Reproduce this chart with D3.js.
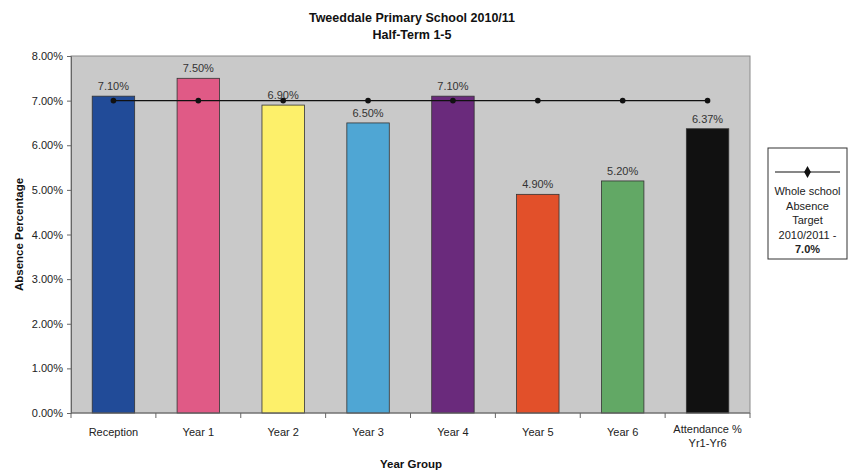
<!DOCTYPE html>
<html>
<head>
  <meta charset="utf-8">
  <script src="https://cdn.jsdelivr.net/npm/d3@7"></script>
  <style>
    body { margin: 0; background: #fff; }
    text { font-family: "Liberation Sans", Arial, sans-serif; }
  </style>
</head>
<body>
  <svg width="854" height="471" id="chart"></svg>
  <script>
    // data
    const categories = ['Reception', 'Year 1', 'Year 2', 'Year 3', 'Year 4', 'Year 5', 'Year 6', 'Attendance %\nYr1-Yr6'];
    const absence = [7.10, 7.50, 6.90, 6.50, 7.10, 4.90, 5.20, 6.37];
    const target = [7.0, 7.0, 7.0, 7.0, 7.0, 7.0, 7.0, 7.0];
    const barColors = ['#214b98', '#e05a86', '#fdf06a', '#4fa6d4', '#6a2a7c', '#e2502a', '#62a865', '#111111'];
    const yTicks = [0, 1, 2, 3, 4, 5, 6, 7, 8];

    const svg = d3.select('#chart');
    const margin = { top: 56, left: 71, right: 104, bottom: 58 };
    const width = 854, height = 471;
    const innerWidth = width - margin.left - margin.right;
    const innerHeight = height - margin.top - margin.bottom;

    const g = svg.append('g').attr('transform', `translate(${margin.left},${margin.top})`);

    const xScale = d3.scaleBand().domain(categories).range([0, innerWidth]).paddingInner(0.5).paddingOuter(0.25);
    const yScale = d3.scaleLinear().domain([0, 8]).range([innerHeight, 0]);

    // plot background
    g.append('rect')
      .attr('width', innerWidth).attr('height', innerHeight)
      .attr('fill', '#c9c9c9').attr('stroke', '#8a8a8a').attr('stroke-width', 1);

    // bars
    g.selectAll('.bar').data(categories).join('rect')
      .attr('class', 'bar')
      .attr('x', d => xScale(d))
      .attr('width', xScale.bandwidth())
      .attr('y', (d, i) => yScale(absence[i]))
      .attr('height', (d, i) => innerHeight - yScale(absence[i]))
      .attr('fill', (d, i) => barColors[i])
      .attr('stroke', '#333').attr('stroke-width', 0.8);

    // value labels
    g.selectAll('.vlabel').data(categories).join('text')
      .attr('class', 'vlabel')
      .attr('x', d => xScale(d) + xScale.bandwidth() / 2)
      .attr('y', (d, i) => yScale(absence[i]) - 6)
      .attr('text-anchor', 'middle')
      .attr('font-size', 11).attr('fill', '#333')
      .text((d, i) => absence[i].toFixed(2) + '%');

    // target line
    const cx = d => xScale(d) + xScale.bandwidth() / 2;
    const line = d3.line().x((d, i) => cx(categories[i])).y(d => yScale(d));
    g.append('path').datum(target)
      .attr('d', line).attr('fill', 'none')
      .attr('stroke', '#111').attr('stroke-width', 1.3);
    g.selectAll('.marker').data(target).join('circle')
      .attr('class', 'marker')
      .attr('cx', (d, i) => cx(categories[i]))
      .attr('cy', d => yScale(d))
      .attr('r', 2.8).attr('fill', '#111');

    // y axis
    const yAxis = d3.axisLeft(yScale).tickValues(yTicks)
      .tickFormat(d => d.toFixed(2) + '%').tickSize(4).tickPadding(4);
    const yg = g.append('g').call(yAxis);
    yg.select('.domain').attr('stroke', '#666');
    yg.selectAll('.tick line').attr('stroke', '#666');
    yg.selectAll('.tick text').attr('font-size', 11).attr('fill', '#222')
      .style('font-family', '"Liberation Sans", Arial, sans-serif');

    // x axis: ticks at band boundaries
    const xg = g.append('g').attr('transform', `translate(0,${innerHeight})`);
    xg.append('line').attr('x1', 0).attr('x2', innerWidth).attr('stroke', '#666');
    const step = xScale.step();
    const bounds = d3.range(categories.length + 1).map(i => xScale(categories[0]) - xScale.paddingOuter() * step + i * step - (xScale(categories[0]) - xScale.paddingOuter() * step));
    xg.selectAll('.xtick').data(bounds).join('line')
      .attr('class', 'xtick')
      .attr('x1', d => d).attr('x2', d => d)
      .attr('y1', 0).attr('y2', 5).attr('stroke', '#666');
    xg.selectAll('.xlabel').data(categories).join('text')
      .attr('class', 'xlabel')
      .attr('x', d => cx(d))
      .attr('y', 23)
      .attr('text-anchor', 'middle')
      .attr('font-size', 11).attr('fill', '#222')
      .each(function (d) {
        const parts = d.split('\n');
        d3.select(this).selectAll('tspan').data(parts).join('tspan')
          .attr('x', cx(d)).attr('dy', (p, i) => i === 0 ? (parts.length > 1 ? -3 : 0) : 14)
          .text(p => p);
      });

    // titles
    svg.append('text').attr('x', 412).attr('y', 22).attr('text-anchor', 'middle')
      .attr('font-size', 12.5).attr('font-weight', 'bold').attr('fill', '#111')
      .text('Tweeddale Primary School 2010/11');
    svg.append('text').attr('x', 412).attr('y', 39).attr('text-anchor', 'middle')
      .attr('font-size', 12.5).attr('font-weight', 'bold').attr('fill', '#111')
      .text('Half-Term 1-5');
    svg.append('text').attr('x', 411).attr('y', 468).attr('text-anchor', 'middle')
      .attr('font-size', 11.5).attr('font-weight', 'bold').attr('fill', '#111')
      .text('Year Group');
    svg.append('text')
      .attr('transform', `translate(23,${margin.top + innerHeight / 2}) rotate(-90)`)
      .attr('text-anchor', 'middle')
      .attr('font-size', 11.5).attr('font-weight', 'bold').attr('fill', '#111')
      .text('Absence Percentage');

    // legend
    const lg = svg.append('g').attr('transform', 'translate(768,148)');
    lg.append('rect').attr('width', 79).attr('height', 111)
      .attr('fill', '#fff').attr('stroke', '#333');
    lg.append('line').attr('x1', 7).attr('x2', 72).attr('y1', 24).attr('y2', 24)
      .attr('stroke', '#111').attr('stroke-width', 1.2);
    lg.append('path').attr('d', d3.symbol(d3.symbolDiamond, 40)())
      .attr('transform', 'translate(39.5,24)').attr('fill', '#111');
    const legendLines = ['Whole school', 'Absence', 'Target', '2010/2011 -', '7.0%'];
    lg.selectAll('.ltext').data(legendLines).join('text')
      .attr('class', 'ltext')
      .attr('x', 39.5).attr('y', (d, i) => 47 + i * 14.5)
      .attr('text-anchor', 'middle').attr('font-size', 11).attr('fill', '#222')
      .attr('font-weight', (d, i) => i === 4 ? 'bold' : 'normal')
      .text(d => d);
  </script>
</body>
</html>
